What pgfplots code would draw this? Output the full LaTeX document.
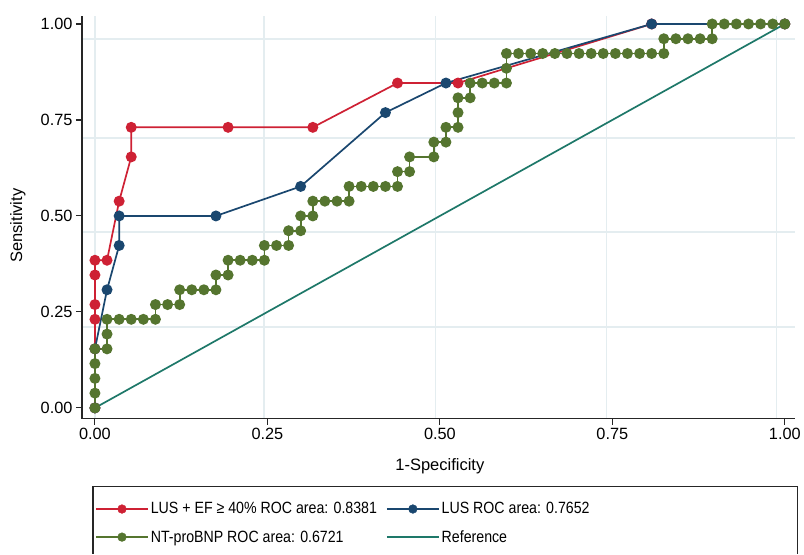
\documentclass[border=0pt]{standalone}
\usepackage{pgfplots}
\pgfplotsset{compat=1.18}
\usepackage{fontspec}
\setmainfont{Liberation Sans}
\newfontfamily\legfont[FakeStretch=0.87]{Liberation Sans}
\definecolor{cred}{RGB}{206,33,52}
\definecolor{cblue}{RGB}{26,71,111}
\definecolor{cgreen}{RGB}{85,117,47}
\definecolor{cteal}{RGB}{30,120,105}
\definecolor{cgrid}{RGB}{228,237,240}
\begin{document}
\begin{tikzpicture}
\begin{axis}[
  scale only axis,
  width=713pt, height=402.7pt,
  xmin=-0.0188, xmax=1.0145,
  ymin=-0.0286, ymax=1.02,
  axis lines=left,
  axis line style={-, line width=1.1pt, black!85},
  clip=false,
  xtick={0,0.25,0.5,0.75,1}, ytick={0,0.25,0.5,0.75,1},
  minor xtick={0,0.245,0.494,0.742,0.988},
  minor ytick={0.211,0.458,0.703,0.961},
  xminorgrids=true, yminorgrids=true,
  minor grid style={cgrid, line width=1.2pt},
  minor tick length=0pt,
  tick align=outside, major tick length=6pt,
  tick style={black!85, line width=1.1pt},
  /pgf/number format/assume math mode=true,
  xticklabel={\pgfmathprintnumber[fixed,fixed zerofill,precision=2]{\tick}},
  yticklabel={\pgfmathprintnumber[fixed,fixed zerofill,precision=2]{\tick}},
  ticklabel style={font=\fontsize{16.3}{19}\selectfont},
  xlabel={1-Specificity}, ylabel={Sensitivity},
  every axis x label/.style={at={(axis description cs:0.502,-0.117)}, anchor=center, font=\fontsize{16.5}{19}\selectfont},
  every axis y label/.style={at={(axis description cs:-0.0898,0.48)}, anchor=center, rotate=90, font=\fontsize{16.5}{19}\selectfont},
  legend columns=2,
  legend cell align=left,
  legend style={draw=none, fill=none, at={(axis description cs:0.0154,-0.2024)}, anchor=north west,
    font=\legfont\fontsize{16.3}{18}\selectfont, inner xsep=2pt, inner ysep=0pt, row sep=11pt,
    /tikz/every even column/.append style={column sep=7pt}},
  legend image code/.code={\draw[mark repeat=2,mark phase=2,#1,line width=1.7pt,every mark/.append style={line width=0.4pt,scale=0.95}] plot coordinates {(0pt,0pt)(26pt,0pt)(52pt,0pt)};},
]
% LUS + EF >= 40%
\addplot[cred, line width=1.7pt, mark=*, mark size=4.6pt, mark options={solid}] coordinates {
(0,0)(0,0.1538)(0,0.2308)(0,0.2692)(0,0.3462)(0,0.3846)(0.0175,0.3846)(0.0351,0.5385)(0.0526,0.6538)(0.0526,0.7308)
(0.1930,0.7308)(0.3158,0.7308)(0.4386,0.8462)(0.5263,0.8462)(0.8070,1)(1,1)};
\addlegendentry{LUS + EF ≥ 40\% ROC area: 0.8381}
% LUS
\addplot[cblue, line width=1.7pt, mark=*, mark size=4.6pt] coordinates {
(0,0)(0,0.1538)(0.0175,0.3077)(0.0351,0.4231)(0.0351,0.5)(0.1754,0.5)(0.2982,0.5769)(0.4211,0.7692)(0.5088,0.8462)(0.8070,1)(1,1)};
\addlegendentry{LUS ROC area: 0.7652}
% NT-proBNP
\addplot[cgreen, line width=1.7pt, mark=*, mark size=4.6pt] coordinates {
(0,0)(0,0.0385)(0,0.0769)(0,0.1154)(0,0.1538)(0.0175,0.1538)(0.0175,0.1923)(0.0175,0.2308)
(0.0351,0.2308)(0.0526,0.2308)(0.0702,0.2308)(0.0877,0.2308)(0.0877,0.2692)(0.1053,0.2692)(0.1228,0.2692)
(0.1228,0.3077)(0.1404,0.3077)(0.1579,0.3077)(0.1754,0.3077)(0.1754,0.3462)(0.1930,0.3462)(0.1930,0.3846)
(0.2105,0.3846)(0.2281,0.3846)(0.2456,0.3846)(0.2456,0.4231)(0.2632,0.4231)(0.2807,0.4231)(0.2807,0.4615)
(0.2982,0.4615)(0.2982,0.5)(0.3158,0.5)(0.3158,0.5385)(0.3333,0.5385)(0.3509,0.5385)(0.3684,0.5385)
(0.3684,0.5769)(0.3860,0.5769)(0.4035,0.5769)(0.4211,0.5769)(0.4386,0.5769)(0.4386,0.6154)(0.4561,0.6154)
(0.4561,0.6538)(0.4912,0.6538)(0.4912,0.6923)(0.5088,0.6923)(0.5088,0.7308)(0.5263,0.7308)(0.5263,0.7692)
(0.5263,0.8077)(0.5439,0.8077)(0.5439,0.8462)(0.5614,0.8462)(0.5789,0.8462)(0.5965,0.8462)(0.5965,0.8846)
(0.5965,0.9231)(0.6140,0.9231)(0.6316,0.9231)(0.6491,0.9231)(0.6667,0.9231)(0.6842,0.9231)(0.7018,0.9231)
(0.7193,0.9231)(0.7368,0.9231)(0.7544,0.9231)(0.7719,0.9231)(0.7895,0.9231)(0.8070,0.9231)(0.8246,0.9231)
(0.8246,0.9615)(0.8421,0.9615)(0.8596,0.9615)(0.8772,0.9615)(0.8947,0.9615)(0.8947,1)(0.9123,1)(0.9298,1)
(0.9474,1)(0.9649,1)(0.9825,1)(1,1)};
\addlegendentry{NT-proBNP ROC area: 0.6721}
% Reference
\addplot[cteal, line width=1.7pt, no marks] coordinates {(0,0)(1,1)};
\addlegendentry{Reference}
\end{axis}
\draw[black!85, line width=1.2pt] (11pt,-135pt) -- (11pt,-68pt) -- (716pt,-68pt) -- (716pt,-135pt);
\path[use as bounding box] (-82pt,-134pt) rectangle (722pt,419pt);
\end{tikzpicture}
\end{document}
